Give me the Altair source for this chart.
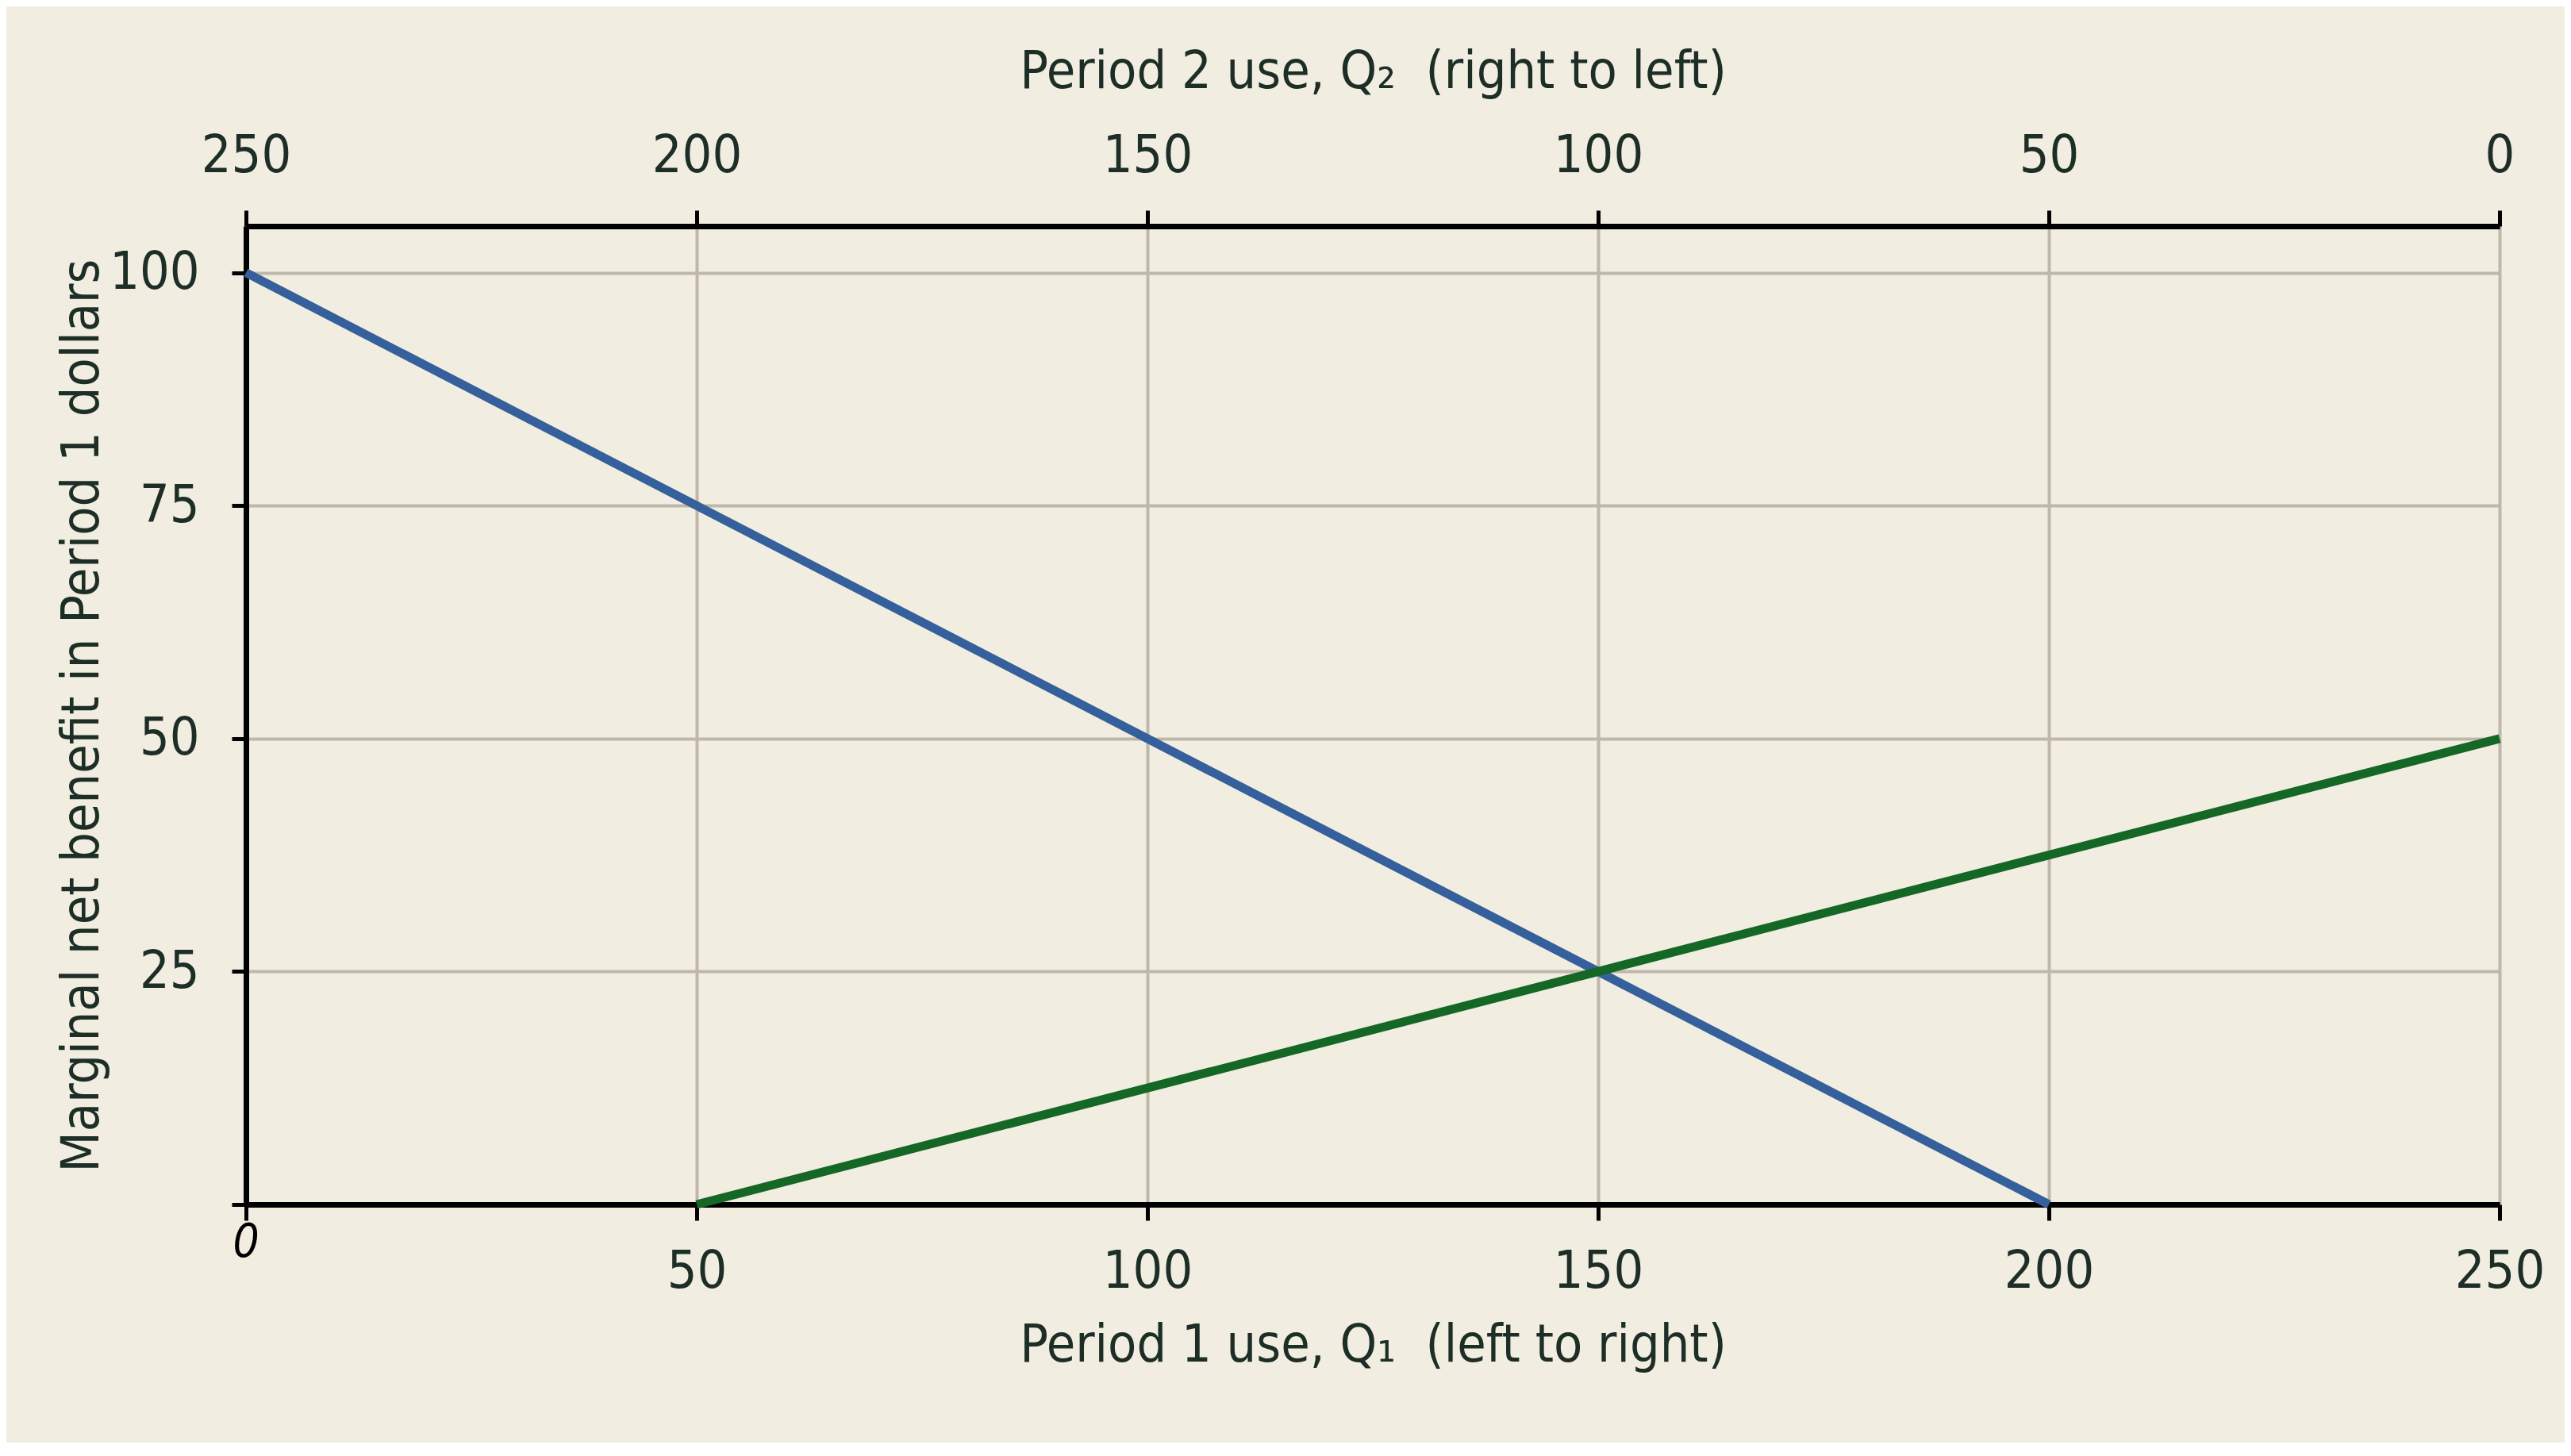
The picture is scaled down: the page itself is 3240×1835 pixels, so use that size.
import altair as alt
import pandas as pd

# Data
q1 = [0, 200]             # Period 1 use (bottom axis)
mnb1 = [100, 0]           # marginal net benefit, period 1 (blue)
q2 = [200, 0]             # Period 2 use (top axis, right to left)
mnb2 = [0, 50]            # marginal net benefit, period 2 in period-1 dollars (green)
x_ticks = [0, 50, 100, 150, 200, 250]
y_ticks = [0, 25, 50, 75, 100]
origin_label = ["0"]

FONT = "Liberation Sans Narrow, Arial Narrow, DejaVu Sans Condensed, sans-serif"
TXT = "#1d2e27"
BG = "#f1ede1"
GRID = "#bfb7a9"
BLUE = "#35609b"
GREEN = "#156726"

W, H = 2840, 1233
FS = 66

df1 = pd.DataFrame({"q1": q1, "mnb": mnb1})
df2 = pd.DataFrame({"q2": q2, "mnb": mnb2})
df0 = pd.DataFrame({"q1": [0], "mnb": [0], "label": origin_label})

y_scale = alt.Scale(domain=[0, 105], nice=False, zero=False)


def y_axis():
    return alt.Axis(
        values=y_ticks,
        labelExpr="datum.value == 0 ? '' : datum.label",
        title="Marginal net benefit in Period 1 dollars",
        titleX=-187, titleY=H / 2, titleAngle=-90, titleBaseline="alphabetic",
        tickSize=18, labelPadding=41, grid=True, orient="left",
    )


blue = alt.Chart(df1).mark_line(color=BLUE, strokeWidth=11, clip=False).encode(
    x=alt.X("q1:Q",
            scale=alt.Scale(domain=[0, 250], nice=False, zero=False),
            axis=alt.Axis(
                orient="bottom", values=x_ticks,
                labelExpr="datum.value == 0 ? '' : datum.label",
                title="Period 1 use, Q\u2081\u00a0 (left to right)",
                titleX=W / 2, titleY=197, titleBaseline="alphabetic",
                tickSize=20, labelPadding=32, grid=True,
            )),
    y=alt.Y("mnb:Q", scale=y_scale, axis=y_axis()),
)

origin = alt.Chart(df0).mark_text(
    font=FONT, fontSize=58, fontStyle="italic", color="#000000",
    baseline="alphabetic", align="center", dy=66,
).encode(
    x=alt.X("q1:Q", scale=alt.Scale(domain=[0, 250], nice=False, zero=False), axis=None),
    y=alt.Y("mnb:Q", scale=y_scale, axis=y_axis()),
    text="label:N",
)

green = alt.Chart(df2).mark_line(color=GREEN, strokeWidth=11, clip=False).encode(
    x=alt.X("q2:Q",
            scale=alt.Scale(domain=[0, 250], nice=False, zero=False, reverse=True),
            axis=alt.Axis(
                orient="top", values=x_ticks,
                title="Period 2 use, Q\u2082\u00a0 (right to left)",
                titleX=W / 2, titleY=-175, titleBaseline="alphabetic",
                tickSize=20, labelPadding=35, grid=False,
            )),
    y=alt.Y("mnb:Q", scale=y_scale, axis=y_axis()),
)

chart = alt.layer(blue, green, origin).resolve_scale(x="independent").properties(
    width=W, height=H,
    autosize=alt.AutoSizeParams(type="none"),
    padding={"left": 302, "top": 277, "right": 82, "bottom": 300},
    background=BG,
).configure_view(stroke=None).configure_axis(
    labelFont=FONT, titleFont=FONT,
    labelFontSize=FS, titleFontSize=FS,
    labelColor=TXT, titleColor=TXT,
    titleFontWeight="normal",
    domainColor="#000000", domainWidth=7,
    tickColor="#000000", tickWidth=5,
    gridColor=GRID, gridWidth=4, gridOpacity=1,
    labelFlush=False, labelOverlap=False,
)

chart.save("out.html", embed_options={"renderer": "svg", "actions": False})
